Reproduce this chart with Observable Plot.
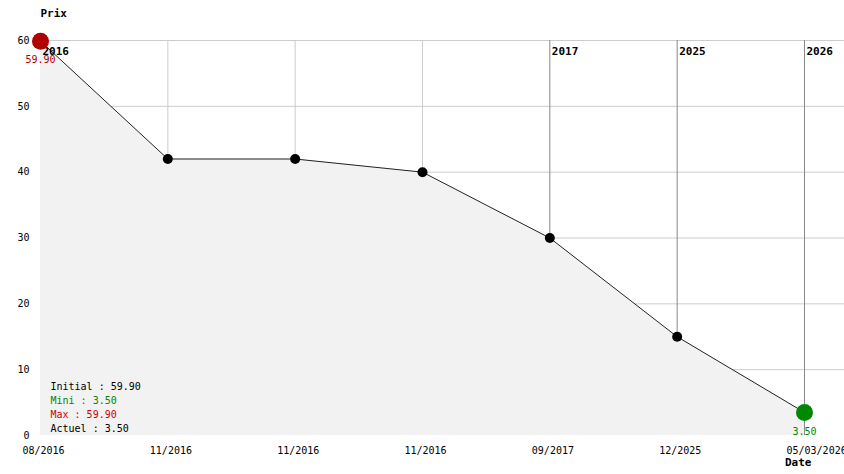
<!DOCTYPE html>
<html><head><meta charset="utf-8">
<script src="https://cdn.jsdelivr.net/npm/d3@7"></script>
<script src="https://cdn.jsdelivr.net/npm/@observablehq/plot@0.6"></script>
<style>body{margin:0;background:#fff} svg{display:block}</style>
</head><body><div id="chart"></div>
<script>
const dates = ["08/2016","11/2016","11/2016","11/2016","09/2017","12/2025","05/03/2026"];
const prices = [59.90, 42, 42, 40, 30, 15, 3.50];
const yearIndex = [0, 4, 5, 6];
const yearLabels = ["2016","2017","2025","2026"];
const legendLabels = ["Initial : 59.90","Mini : 3.50","Max : 59.90","Actuel : 3.50"];
const legendColors = ["#000000","#008800","#cc0000","#000000"];
const yTicks = [0,10,20,30,40,50,60];

const idx = d3.range(dates.length);
const data = idx.map(i => ({i, date: dates[i], price: prices[i]}));
const maxI = prices.indexOf(d3.max(prices));
const minI = prices.lastIndexOf(d3.min(prices));
const years = yearIndex.map((i, k) => ({i, label: yearLabels[k]}));
const mono = "'DejaVu Sans Mono', monospace";
const legendRowGap = 14;

const legendMarks = legendLabels.map((t, k) =>
  Plot.text([t], {fill: legendColors[k], frameAnchor: "bottom-left", textAnchor: "start",
    dx: 10, dy: -4 - legendRowGap * (legendLabels.length - 1 - k), fontSize: 10})
);

const chart = Plot.plot({
  width: 844, height: 474,
  marginLeft: 40, marginRight: 40, marginTop: 40, marginBottom: 39,
  style: {fontFamily: mono, fontSize: "10px", background: "#fff", overflow: "visible"},
  x: {domain: [0, dates.length - 1]},
  y: {domain: [0, 60]},
  marks: [
    Plot.ruleY(yTicks.filter(t => t > 0), {stroke: "#cccccc", insetRight: -40}),
    Plot.ruleX(idx.filter(i => !yearIndex.includes(i)), {stroke: "#cccccc"}),
    Plot.ruleX(yearIndex, {stroke: "#888888"}),
    Plot.areaY(data, {x: "i", y: "price", fill: "#f2f2f2"}),
    Plot.line(data, {x: "i", y: "price", stroke: "#222", strokeWidth: 1}),
    Plot.text(years, {x: "i", text: "label", frameAnchor: "top", textAnchor: "start", dx: 2, dy: 7, fontWeight: "bold", fontSize: 11, fill: "#000"}),
    Plot.dot(data.filter(d => d.i !== maxI && d.i !== minI), {x: "i", y: "price", r: 5, fill: "#000", stroke: "none"}),
    Plot.dot([data[maxI]], {x: "i", y: "price", r: 8.5, fill: "#b00000", stroke: "none"}),
    Plot.dot([data[minI]], {x: "i", y: "price", r: 8.5, fill: "#008800", stroke: "none"}),
    Plot.text([data[maxI]], {x: "i", y: "price", text: d => d.price.toFixed(2), dy: 19, fill: "#b00000"}),
    Plot.text([data[minI]], {x: "i", y: "price", text: d => d.price.toFixed(2), dy: 19, fill: "#008800"}),
    Plot.axisY(yTicks, {tickSize: 0, tickPadding: 11, label: null, fill: "#000"}),
    Plot.axisX(idx, {tickSize: 0, tickPadding: 11, label: null, tickFormat: i => dates[i], textAnchor: "start", dx: -18, fill: "#000"}),
    ...legendMarks,
    Plot.text(["Prix"], {frameAnchor: "top-left", textAnchor: "start", dy: -31, fontWeight: "bold", fontSize: 11, fill: "#000"}),
    Plot.text(["Date"], {frameAnchor: "bottom-right", textAnchor: "end", dx: 7, dy: 30, fontWeight: "bold", fontSize: 11, fill: "#000"})
  ]
});
document.getElementById("chart").appendChild(chart);
</script>
</body></html>
